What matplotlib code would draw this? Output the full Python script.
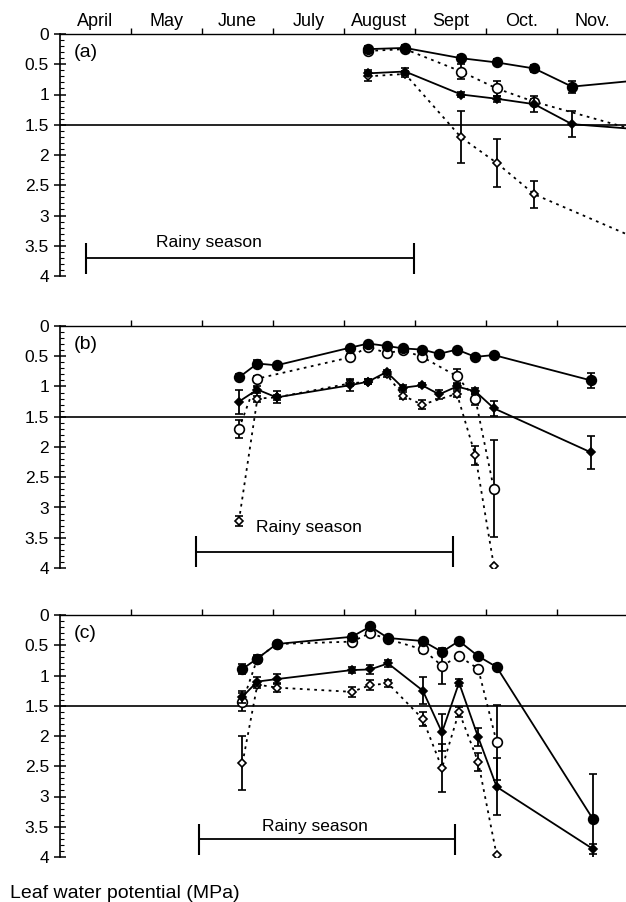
import matplotlib
matplotlib.use('Agg')
from matplotlib import pyplot as plt
from matplotlib.ticker import MultipleLocator, FormatStrFormatter

plt.rcParams['font.family'] = ['Liberation Sans', 'DejaVu Sans']

months = ['April', 'May', 'June', 'July', 'August', 'Sept', 'Oct.', 'Nov.']
panel_labels = ['(a)', '(b)', '(c)']

# x = months counted from 1 April, y = leaf water potential (MPa, plotted downward)
# panel (a)
a_x = [4.34, 4.86, 5.65, 6.15, 6.68, 7.21, 8.2]
a_fc = [0.25, 0.23, 0.40, 0.47, 0.57, 0.87, 0.76]
a_fc_err = [0.05, 0.04, 0.05, 0.05, 0.05, 0.10, 0.0]
a_oc_x = [4.34, 4.86, 5.65, 6.15, 6.68, 8.2]
a_oc = [0.28, 0.25, 0.62, 0.90, 1.12, 1.62]
a_oc_err = [0.04, 0.04, 0.12, 0.12, 0.05, 0.0]
a_fd = [0.65, 0.62, 1.00, 1.07, 1.16, 1.49, 1.58]
a_fd_err = [0.05, 0.05, 0.04, 0.05, 0.13, 0.22, 0.0]
a_od_x = [4.34, 4.86, 5.65, 6.15, 6.68, 8.2]
a_od = [0.70, 0.66, 1.71, 2.13, 2.65, 3.42]
a_od_err = [0.07, 0.05, 0.43, 0.40, 0.22, 0.0]

# panel (b)
b_x = [2.52, 2.78, 3.05, 4.08, 4.34, 4.6, 4.83, 5.1, 5.34, 5.59, 5.85, 6.11, 7.48]
b_fc = [0.85, 0.62, 0.65, 0.36, 0.29, 0.33, 0.37, 0.39, 0.46, 0.39, 0.51, 0.48, 0.90]
b_fc_err = [0.05, 0.05, 0.04, 0.03, 0.03, 0.03, 0.03, 0.03, 0.03, 0.03, 0.03, 0.03, 0.12]
b_oc_x = [2.52, 2.78, 4.08, 4.34, 4.6, 4.83, 5.1, 5.59, 5.85, 6.11]
b_oc = [1.70, 0.87, 0.52, 0.34, 0.45, 0.40, 0.51, 0.83, 1.20, 2.69]
b_oc_err = [0.15, 0.05, 0.05, 0.04, 0.05, 0.04, 0.04, 0.12, 0.10, 0.80]
b_fd = [1.25, 1.05, 1.18, 0.98, 0.92, 0.76, 1.02, 0.98, 1.13, 1.00, 1.08, 1.36, 2.09]
b_fd_err = [0.20, 0.05, 0.10, 0.10, 0.04, 0.04, 0.04, 0.03, 0.08, 0.04, 0.05, 0.12, 0.28]
b_od_x = [2.52, 2.78, 3.05, 4.08, 4.34, 4.6, 4.83, 5.1, 5.59, 5.85, 6.11]
b_od = [3.22, 1.20, 1.18, 0.95, 0.92, 0.80, 1.15, 1.30, 1.12, 2.14, 3.96]
b_od_err = [0.08, 0.05, 0.04, 0.05, 0.04, 0.04, 0.06, 0.08, 0.05, 0.15, 0.0]

# panel (c)
c_x = [2.57, 2.78, 3.05, 4.11, 4.37, 4.62, 5.11, 5.38, 5.62, 5.89, 6.15, 7.51]
c_fc = [0.89, 0.72, 0.48, 0.36, 0.19, 0.38, 0.43, 0.61, 0.43, 0.68, 0.86, 3.38]
c_fc_err = [0.08, 0.06, 0.03, 0.05, 0.03, 0.03, 0.04, 0.04, 0.03, 0.04, 0.05, 0.75]
c_oc_x = [2.57, 2.78, 3.05, 4.11, 4.37, 4.62, 5.11, 5.38, 5.62, 5.89, 6.15]
c_oc = [1.44, 0.72, 0.48, 0.44, 0.30, 0.40, 0.57, 0.84, 0.68, 0.89, 2.10]
c_oc_err = [0.15, 0.05, 0.03, 0.05, 0.04, 0.04, 0.05, 0.30, 0.03, 0.04, 0.62]
c_fd = [1.35, 1.10, 1.06, 0.91, 0.90, 0.80, 1.25, 1.94, 1.12, 2.02, 2.84, 3.87]
c_fd_err = [0.10, 0.08, 0.08, 0.05, 0.08, 0.06, 0.22, 0.30, 0.06, 0.15, 0.47, 0.08]
c_od_x = [2.57, 2.78, 3.05, 4.11, 4.37, 4.62, 5.11, 5.38, 5.62, 5.89, 6.15]
c_od = [2.45, 1.15, 1.20, 1.27, 1.16, 1.13, 1.72, 2.53, 1.60, 2.43, 3.97]
c_od_err = [0.45, 0.05, 0.08, 0.08, 0.08, 0.06, 0.12, 0.40, 0.08, 0.15, 0.0]

# rainy season bars
rainy_start = [0.37, 1.92, 1.96]
rainy_end = [4.99, 5.54, 5.56]
rainy_level = [3.71, 3.73, 3.71]
rainy_text_x = [2.1, 3.5, 3.59]
rainy_text_y = [3.45, 3.33, 3.5]

threshold = 1.5

panels = [
    [(a_x, a_fc, a_fc_err), (a_oc_x, a_oc, a_oc_err), (a_x, a_fd, a_fd_err), (a_od_x, a_od, a_od_err)],
    [(b_x, b_fc, b_fc_err), (b_oc_x, b_oc, b_oc_err), (b_x, b_fd, b_fd_err), (b_od_x, b_od, b_od_err)],
    [(c_x, c_fc, c_fc_err), (c_oc_x, c_oc, c_oc_err), (c_x, c_fd, c_fd_err), (c_od_x, c_od, c_od_err)],
]
# filled circle / open circle / filled diamond / open diamond
styles = [
    dict(marker='o', ms=7, mfc='black', ls='-', z=5),
    dict(marker='o', ms=7, mfc='white', ls=(0, (1.5, 2.5)), z=4),
    dict(marker='D', ms=4.5, mfc='black', ls='-', z=5),
    dict(marker='D', ms=4.5, mfc='white', ls=(0, (1.5, 2.5)), z=4),
]

fig = plt.figure(figsize=(6.26, 9.02), dpi=100)
tops = [34, 326, 615]
for ip, series in enumerate(panels):
    top = 1 - tops[ip] / 902.
    ax = fig.add_axes([60 / 626., top - 242 / 902., 566 / 626., 242 / 902.])

    for (xs, ys, es), st in zip(series, styles):
        ax.errorbar(xs, ys, yerr=es, color='black', lw=1.3, ls=st['ls'],
                    marker=st['marker'], ms=st['ms'], mfc=st['mfc'], mec='black', mew=1.2,
                    elinewidth=1.3, capsize=3, capthick=1.2, zorder=st['z'])

    ax.axhline(threshold, color='black', lw=1.2, zorder=2)

    # rainy season
    ax.plot([rainy_start[ip], rainy_end[ip]], [rainy_level[ip]] * 2, color='black', lw=1.3)
    ax.vlines([rainy_start[ip], rainy_end[ip]], rainy_level[ip] - 0.26, rainy_level[ip] + 0.26,
              color='black', lw=1.5)
    ax.text(rainy_text_x[ip], rainy_text_y[ip], 'Rainy season', ha='center', va='center', fontsize=12.5)

    ax.text(0.2, 0.3, panel_labels[ip], ha='left', va='center', fontsize=14)

    ax.set_xlim(0, 566 / 71.)
    ax.set_ylim(4, 0)

    ax.spines['right'].set_visible(False)
    ax.spines['bottom'].set_visible(False)
    ax.spines['left'].set_linewidth(1.2)
    ax.spines['top'].set_linewidth(1.0)

    ax.xaxis.tick_top()
    ax.set_xticks(range(1, 8))
    ax.set_xticklabels([])
    ax.tick_params(axis='x', which='major', direction='out', length=4, width=1)
    if ip == 0:
        ax.set_xticks([m + 0.5 for m in range(len(months))], minor=True)
        ax.set_xticklabels(months, minor=True, fontsize=13)
        ax.tick_params(axis='x', which='minor', length=0, pad=3)
    else:
        ax.tick_params(axis='x', which='minor', length=0)

    ax.yaxis.set_major_locator(MultipleLocator(0.5))
    ax.yaxis.set_minor_locator(MultipleLocator(0.1))
    ax.yaxis.set_major_formatter(FormatStrFormatter('%g'))
    ax.tick_params(axis='y', which='major', direction='inout', length=8, width=1.1, labelsize=12.5, pad=4)
    ax.tick_params(axis='y', which='minor', direction='in', length=3, width=0.8)

fig.text(10 / 626., 1 - 893 / 902., 'Leaf water potential (MPa)', ha='left', va='center', fontsize=14)

fig.savefig('out.png', dpi=100)
plt.close(fig)
